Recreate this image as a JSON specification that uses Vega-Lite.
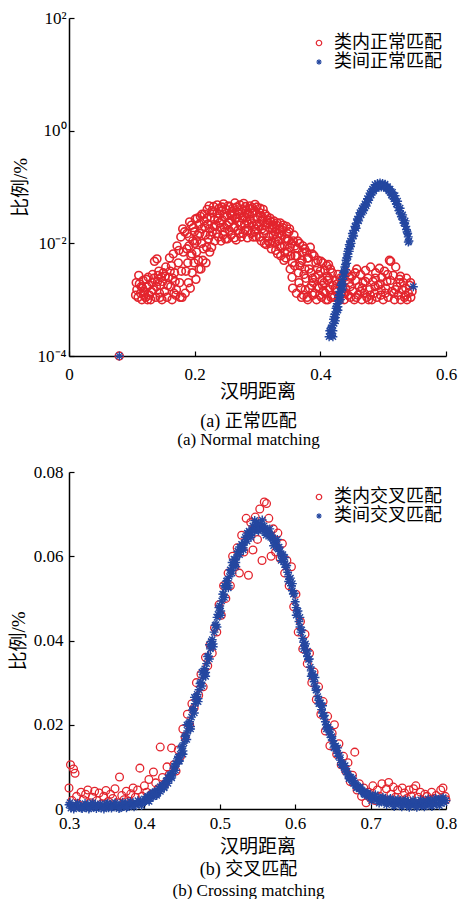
{
"$schema": "https://vega.github.io/schema/vega-lite/v6.json",
"padding": {"left": 9, "top": 9, "right": 6, "bottom": 0},
"background": "white",
"config": {
 "view": {"stroke": null},
 "axis": {"domainColor": "black", "domainWidth": 1.5, "tickColor": "black", "tickWidth": 1.2, "tickSize": -5, "labelFont": "Liberation Serif", "labelFontSize": 17, "labelColor": "black", "titleFont": "Liberation Serif, Noto Sans CJK SC", "titleFontSize": 19, "titleFontWeight": "normal", "titleColor": "black", "grid": false, "labelFlush": false, "labelOverlap": false}
},
"spacing": 15,
"resolve": {"scale": {"color": "independent", "shape": "independent"}},
"datasets": {
 "a_in": [
  {"x":0.08,"y":0.0001},
  {"x":0.106,"y":0.0012},{"x":0.107,"y":0.0020},{"x":0.108,"y":0.0015},{"x":0.110,"y":0.0011},{"x":0.111,"y":0.0027},{"x":0.112,"y":0.0019},{"x":0.114,"y":0.0013},{"x":0.115,"y":0.0017},{"x":0.116,"y":0.0010},{"x":0.117,"y":0.0016},{"x":0.118,"y":0.0022},{"x":0.119,"y":0.0012},{"x":0.120,"y":0.0014},{"x":0.122,"y":0.0011},{"x":0.123,"y":0.0023},{"x":0.124,"y":0.0017},{"x":0.125,"y":0.0010},{"x":0.126,"y":0.0025},{"x":0.127,"y":0.0018},{"x":0.128,"y":0.0012},{"x":0.130,"y":0.0010},{"x":0.131,"y":0.0014},{"x":0.132,"y":0.0020},{"x":0.133,"y":0.0028},{"x":0.134,"y":0.0015},{"x":0.135,"y":0.0024},{"x":0.136,"y":0.0048},{"x":0.138,"y":0.0011},{"x":0.139,"y":0.0017},{"x":0.140,"y":0.0053},{"x":0.141,"y":0.0021},{"x":0.142,"y":0.0027},{"x":0.143,"y":0.0032},{"x":0.144,"y":0.0013},{"x":0.145,"y":0.0011},{"x":0.146,"y":0.0018},{"x":0.147,"y":0.0025},{"x":0.148,"y":0.0010},{"x":0.149,"y":0.0021},{"x":0.150,"y":0.0030},
  {"x":0.152,"y":0.0014},{"x":0.153,"y":0.0026},{"x":0.154,"y":0.0038},{"x":0.156,"y":0.0011},{"x":0.157,"y":0.0018},{"x":0.158,"y":0.0025},{"x":0.160,"y":0.0055},{"x":0.161,"y":0.0032},{"x":0.162,"y":0.0017},{"x":0.163,"y":0.0040},{"x":0.164,"y":0.0010},{"x":0.165,"y":0.0024},{"x":0.166,"y":0.0065},{"x":0.167,"y":0.0013},{"x":0.168,"y":0.0030},{"x":0.169,"y":0.0021},{"x":0.170,"y":0.0012},{"x":0.171,"y":0.0015},{"x":0.172,"y":0.0090},{"x":0.174,"y":0.0045},{"x":0.175,"y":0.0075},{"x":0.176,"y":0.0020},{"x":0.177,"y":0.0011},{"x":0.178,"y":0.0130},{"x":0.179,"y":0.0032},{"x":0.180,"y":0.0011},{"x":0.181,"y":0.0180},{"x":0.182,"y":0.0070},{"x":0.184,"y":0.0160},{"x":0.185,"y":0.0013},{"x":0.186,"y":0.0032},
  {"x":0.1875,"y":0.0080},{"x":0.1915,"y":0.0130},{"x":0.1955,"y":0.0065},{"x":0.1995,"y":0.0160},{"x":0.2035,"y":0.0110},{"x":0.2075,"y":0.0220},{"x":0.2115,"y":0.0180},{"x":0.2155,"y":0.0330},{"x":0.2195,"y":0.0280},{"x":0.2235,"y":0.0180},{"x":0.2275,"y":0.0380},{"x":0.2315,"y":0.0260},{"x":0.2355,"y":0.0340},{"x":0.2395,"y":0.0230},{"x":0.2435,"y":0.0440},{"x":0.2475,"y":0.0190},{"x":0.2515,"y":0.0310},{"x":0.2555,"y":0.0240},{"x":0.2595,"y":0.0370},{"x":0.2635,"y":0.0200},{"x":0.2675,"y":0.0290},{"x":0.2715,"y":0.0150},{"x":0.2755,"y":0.0350},{"x":0.2795,"y":0.0220},{"x":0.2835,"y":0.0330},{"x":0.2875,"y":0.0270},{"x":0.2915,"y":0.0430},{"x":0.2955,"y":0.0160},{"x":0.2995,"y":0.0220},{"x":0.3035,"y":0.0350},{"x":0.3075,"y":0.0250},{"x":0.3115,"y":0.0170},{"x":0.3155,"y":0.0260},{"x":0.3195,"y":0.0100},{"x":0.3235,"y":0.0210},{"x":0.3275,"y":0.0160},{"x":0.3315,"y":0.0130},{"x":0.3355,"y":0.0090},{"x":0.3395,"y":0.0170},{"x":0.3435,"y":0.0070},{"x":0.3475,"y":0.0120},{"x":0.3515,"y":0.0085},{"x":0.3555,"y":0.0045},{"x":0.3595,"y":0.0090},{"x":0.3635,"y":0.0080},{"x":0.3675,"y":0.0040},{"x":0.3715,"y":0.0070},{"x":0.3755,"y":0.0035},{"x":0.3795,"y":0.0055},{"x":0.3875,"y":0.0024},{"x":0.3955,"y":0.0036},{"x":0.4035,"y":0.0018},{"x":0.4115,"y":0.0022},
  {"x":0.188,"y":0.0150},{"x":0.189,"y":0.0045},{"x":0.190,"y":0.0020},{"x":0.191,"y":0.0090},{"x":0.192,"y":0.0240},{"x":0.193,"y":0.0016},{"x":0.194,"y":0.0060},{"x":0.195,"y":0.0210},{"x":0.196,"y":0.0030},{"x":0.197,"y":0.0110},{"x":0.198,"y":0.0190},{"x":0.199,"y":0.0045},{"x":0.200,"y":0.0100},{"x":0.201,"y":0.0270},{"x":0.202,"y":0.0023},{"x":0.203,"y":0.0070},{"x":0.204,"y":0.0280},{"x":0.205,"y":0.0140},{"x":0.206,"y":0.0050},{"x":0.207,"y":0.0035},{"x":0.208,"y":0.0150},{"x":0.209,"y":0.0300},{"x":0.210,"y":0.0035},{"x":0.211,"y":0.0100},{"x":0.212,"y":0.0330},{"x":0.213,"y":0.0050},{"x":0.214,"y":0.0080},{"x":0.215,"y":0.0250},{"x":0.216,"y":0.0200},{"x":0.217,"y":0.0140},{"x":0.218,"y":0.0045},{"x":0.219,"y":0.0085},{"x":0.220,"y":0.0400},{"x":0.221,"y":0.0220},{"x":0.222,"y":0.0120},{"x":0.223,"y":0.0460},{"x":0.224,"y":0.0070},{"x":0.225,"y":0.0140},{"x":0.226,"y":0.0290},{"x":0.227,"y":0.0085},{"x":0.228,"y":0.0160},{"x":0.229,"y":0.0350},{"x":0.230,"y":0.0450},{"x":0.231,"y":0.0200},{"x":0.232,"y":0.0110},
  {"x":0.234,"y":0.0210},{"x":0.235,"y":0.0150},{"x":0.236,"y":0.0480},{"x":0.237,"y":0.0280},{"x":0.238,"y":0.0130},{"x":0.239,"y":0.0420},{"x":0.240,"y":0.0330},{"x":0.241,"y":0.0190},{"x":0.242,"y":0.0110},{"x":0.243,"y":0.0380},{"x":0.244,"y":0.0260},{"x":0.245,"y":0.0140},{"x":0.246,"y":0.0500},{"x":0.247,"y":0.0300},{"x":0.248,"y":0.0160},{"x":0.249,"y":0.0120},{"x":0.250,"y":0.0400},{"x":0.251,"y":0.0210},{"x":0.252,"y":0.0120},{"x":0.253,"y":0.0460},{"x":0.254,"y":0.0230},{"x":0.255,"y":0.0170},{"x":0.256,"y":0.0450},{"x":0.257,"y":0.0330},{"x":0.258,"y":0.0140},{"x":0.259,"y":0.0260},{"x":0.260,"y":0.0310},{"x":0.261,"y":0.0420},{"x":0.262,"y":0.0190},{"x":0.263,"y":0.0125},{"x":0.264,"y":0.0520},{"x":0.265,"y":0.0280},{"x":0.266,"y":0.0115},{"x":0.267,"y":0.0440},{"x":0.268,"y":0.0360},{"x":0.269,"y":0.0170},{"x":0.270,"y":0.0240},{"x":0.271,"y":0.0330},{"x":0.272,"y":0.0480},{"x":0.273,"y":0.0210},{"x":0.274,"y":0.0130},{"x":0.275,"y":0.0400},{"x":0.276,"y":0.0280},{"x":0.277,"y":0.0150},{"x":0.278,"y":0.0510},{"x":0.279,"y":0.0300},{"x":0.280,"y":0.0170},{"x":0.281,"y":0.0450},{"x":0.282,"y":0.0390},{"x":0.283,"y":0.0250},{"x":0.284,"y":0.0125},{"x":0.285,"y":0.0170},{"x":0.286,"y":0.0220},{"x":0.287,"y":0.0330},{"x":0.288,"y":0.0460},{"x":0.289,"y":0.0410},{"x":0.290,"y":0.0150},{"x":0.291,"y":0.0230},{"x":0.292,"y":0.0340},{"x":0.293,"y":0.0130},{"x":0.294,"y":0.0200},{"x":0.295,"y":0.0380},{"x":0.296,"y":0.0490},{"x":0.297,"y":0.0180},{"x":0.298,"y":0.0130},{"x":0.299,"y":0.0440},{"x":0.300,"y":0.0290},
  {"x":0.302,"y":0.0200},{"x":0.303,"y":0.0130},{"x":0.304,"y":0.0420},{"x":0.305,"y":0.0300},{"x":0.306,"y":0.0110},{"x":0.307,"y":0.0180},{"x":0.308,"y":0.0290},{"x":0.309,"y":0.0400},{"x":0.310,"y":0.0150},{"x":0.311,"y":0.0100},{"x":0.312,"y":0.0330},{"x":0.313,"y":0.0210},{"x":0.314,"y":0.0095},{"x":0.315,"y":0.0300},{"x":0.316,"y":0.0230},{"x":0.317,"y":0.0110},{"x":0.318,"y":0.0130},{"x":0.319,"y":0.0190},{"x":0.320,"y":0.0280},{"x":0.321,"y":0.0240},{"x":0.322,"y":0.0080},{"x":0.323,"y":0.0110},{"x":0.324,"y":0.0180},{"x":0.325,"y":0.0140},{"x":0.326,"y":0.0250},{"x":0.327,"y":0.0200},{"x":0.328,"y":0.0105},{"x":0.329,"y":0.0075},{"x":0.330,"y":0.0210},{"x":0.331,"y":0.0230},{"x":0.332,"y":0.0065},{"x":0.333,"y":0.0110},{"x":0.334,"y":0.0150},{"x":0.335,"y":0.0180},{"x":0.336,"y":0.0230},{"x":0.337,"y":0.0060},{"x":0.338,"y":0.0085},{"x":0.339,"y":0.0140},{"x":0.340,"y":0.0190},{"x":0.341,"y":0.0210},{"x":0.342,"y":0.0050},{"x":0.343,"y":0.0090},{"x":0.344,"y":0.0120},{"x":0.345,"y":0.0055},{"x":0.346,"y":0.0200},{"x":0.347,"y":0.0150},{"x":0.348,"y":0.0070},{"x":0.349,"y":0.0110},{"x":0.350,"y":0.0160},{"x":0.351,"y":0.0180},{"x":0.352,"y":0.0035},{"x":0.353,"y":0.0060},{"x":0.354,"y":0.0100},{"x":0.355,"y":0.0025},{"x":0.356,"y":0.0016},{"x":0.357,"y":0.0110},{"x":0.358,"y":0.0140},{"x":0.359,"y":0.0040},{"x":0.360,"y":0.0060},
  {"x":0.362,"y":0.0013},{"x":0.363,"y":0.0060},{"x":0.364,"y":0.0110},{"x":0.365,"y":0.0030},{"x":0.366,"y":0.0020},{"x":0.367,"y":0.0100},{"x":0.368,"y":0.0045},{"x":0.369,"y":0.0016},{"x":0.370,"y":0.0011},{"x":0.371,"y":0.0050},{"x":0.372,"y":0.0090},{"x":0.373,"y":0.0012},{"x":0.374,"y":0.0028},{"x":0.375,"y":0.0080},{"x":0.376,"y":0.0015},{"x":0.377,"y":0.0024},{"x":0.378,"y":0.0070},{"x":0.379,"y":0.0011},{"x":0.380,"y":0.0010},{"x":0.381,"y":0.0055},{"x":0.382,"y":0.0035},{"x":0.383,"y":0.0016},{"x":0.384,"y":0.0085},{"x":0.385,"y":0.0030},{"x":0.386,"y":0.0018},{"x":0.387,"y":0.0065},{"x":0.388,"y":0.0012},{"x":0.389,"y":0.0020},{"x":0.390,"y":0.0060},{"x":0.391,"y":0.0013},{"x":0.392,"y":0.0025},{"x":0.393,"y":0.0045},{"x":0.394,"y":0.0010},{"x":0.395,"y":0.0017},{"x":0.396,"y":0.0050},{"x":0.397,"y":0.0028},{"x":0.398,"y":0.0016},{"x":0.399,"y":0.0012},{"x":0.400,"y":0.0032},{"x":0.401,"y":0.0048},{"x":0.402,"y":0.0011},{"x":0.403,"y":0.0022},{"x":0.404,"y":0.0045},{"x":0.405,"y":0.0014},{"x":0.406,"y":0.0020},{"x":0.407,"y":0.0033},{"x":0.408,"y":0.0013},{"x":0.409,"y":0.0010},{"x":0.410,"y":0.0040},{"x":0.411,"y":0.0026},{"x":0.412,"y":0.0010},{"x":0.413,"y":0.0042},{"x":0.414,"y":0.0024},{"x":0.415,"y":0.0015},{"x":0.416,"y":0.0035},{"x":0.417,"y":0.0011},{"x":0.418,"y":0.0012},{"x":0.419,"y":0.0030},{"x":0.420,"y":0.0018},
  {"x":0.422,"y":0.0011},{"x":0.4235,"y":0.0016},{"x":0.424,"y":0.0022},{"x":0.426,"y":0.0015},{"x":0.427,"y":0.0019},{"x":0.428,"y":0.0028},{"x":0.430,"y":0.0010},{"x":0.4315,"y":0.0024},{"x":0.432,"y":0.0018},{"x":0.434,"y":0.0013},{"x":0.436,"y":0.0025},{"x":0.437,"y":0.0013},{"x":0.438,"y":0.0010},{"x":0.4395,"y":0.0013},{"x":0.440,"y":0.0016},{"x":0.442,"y":0.0030},{"x":0.444,"y":0.0012},{"x":0.446,"y":0.0020},{"x":0.447,"y":0.0025},{"x":0.4475,"y":0.0017},{"x":0.448,"y":0.0011},{"x":0.450,"y":0.0026},{"x":0.452,"y":0.0014},{"x":0.454,"y":0.0010},{"x":0.4555,"y":0.0030},{"x":0.456,"y":0.0022},{"x":0.457,"y":0.0011},{"x":0.458,"y":0.0035},{"x":0.460,"y":0.0012},{"x":0.462,"y":0.0017},{"x":0.4635,"y":0.0014},{"x":0.464,"y":0.0028},{"x":0.466,"y":0.0010},{"x":0.467,"y":0.0016},{"x":0.468,"y":0.0020},{"x":0.470,"y":0.0013},{"x":0.4715,"y":0.0021},{"x":0.472,"y":0.0033},{"x":0.474,"y":0.0011},{"x":0.476,"y":0.0024},{"x":0.477,"y":0.0010},{"x":0.478,"y":0.0015},{"x":0.4795,"y":0.0012},{"x":0.480,"y":0.0038},{"x":0.482,"y":0.0010},{"x":0.484,"y":0.0021},{"x":0.486,"y":0.0013},{"x":0.487,"y":0.0017},{"x":0.4875,"y":0.0024},{"x":0.488,"y":0.0030},{"x":0.490,"y":0.0011},{"x":0.492,"y":0.0018},{"x":0.494,"y":0.0036},{"x":0.4955,"y":0.0019},{"x":0.496,"y":0.0012},{"x":0.497,"y":0.0015},{"x":0.498,"y":0.0025},{"x":0.500,"y":0.0010},{"x":0.502,"y":0.0032},{"x":0.5035,"y":0.0013},{"x":0.504,"y":0.0016},{"x":0.506,"y":0.0021},{"x":0.507,"y":0.0028},{"x":0.508,"y":0.0011},{"x":0.510,"y":0.0050},{"x":0.5115,"y":0.0022},{"x":0.512,"y":0.0048},{"x":0.514,"y":0.0014},{"x":0.516,"y":0.0027},{"x":0.517,"y":0.0013},{"x":0.518,"y":0.0010},{"x":0.5195,"y":0.0015},{"x":0.520,"y":0.0038},{"x":0.522,"y":0.0017},{"x":0.524,"y":0.0012},{"x":0.526,"y":0.0023},{"x":0.527,"y":0.0020},{"x":0.5275,"y":0.0026},{"x":0.528,"y":0.0010},{"x":0.530,"y":0.0015},{"x":0.532,"y":0.0020},{"x":0.534,"y":0.0011},{"x":0.5355,"y":0.0012},{"x":0.536,"y":0.0016},{"x":0.537,"y":0.0024},{"x":0.538,"y":0.0010},{"x":0.540,"y":0.0013},{"x":0.542,"y":0.0018},{"x":0.5435,"y":0.0020},{"x":0.544,"y":0.0011},{"x":0.546,"y":0.0014}
 ],
 "a_out": [
  {"x":0.08,"y":0.0001},
  {"x":0.414,"y":0.00022},{"x":0.415,"y":0.00028},{"x":0.416,"y":0.00025},{"x":0.417,"y":0.00030},{"x":0.418,"y":0.00023},{"x":0.418,"y":0.00032},{"x":0.419,"y":0.00035},{"x":0.420,"y":0.00028},{"x":0.420,"y":0.00022},{"x":0.421,"y":0.00045},{"x":0.422,"y":0.00038},{"x":0.422,"y":0.00050},{"x":0.423,"y":0.00055},{"x":0.424,"y":0.00048},{"x":0.424,"y":0.00042},{"x":0.425,"y":0.00070},{"x":0.426,"y":0.00060},{"x":0.426,"y":0.00075},{"x":0.427,"y":0.00085},{"x":0.428,"y":0.00075},{"x":0.428,"y":0.00065},{"x":0.429,"y":0.0011},{"x":0.430,"y":0.00095},{"x":0.430,"y":0.0012},{"x":0.431,"y":0.0014},{"x":0.432,"y":0.0012},{"x":0.432,"y":0.0010},{"x":0.433,"y":0.0018},{"x":0.434,"y":0.0015},{"x":0.434,"y":0.0019},{"x":0.435,"y":0.0023},{"x":0.436,"y":0.0019},{"x":0.436,"y":0.0016},{"x":0.437,"y":0.0030},{"x":0.438,"y":0.0026},{"x":0.438,"y":0.0032},{"x":0.439,"y":0.0038},{"x":0.440,"y":0.0034},{"x":0.440,"y":0.0042},{"x":0.441,"y":0.0050},{"x":0.442,"y":0.0044},{"x":0.442,"y":0.0055},{"x":0.443,"y":0.0065},{"x":0.444,"y":0.0058},{"x":0.444,"y":0.0072},{"x":0.445,"y":0.0080},{"x":0.446,"y":0.0072},{"x":0.446,"y":0.0095},{"x":0.447,"y":0.0095},{"x":0.448,"y":0.0088},{"x":0.448,"y":0.0110},{"x":0.449,"y":0.0100},{"x":0.450,"y":0.0120},{"x":0.451,"y":0.0150},{"x":0.452,"y":0.0140},{"x":0.453,"y":0.0135},{"x":0.454,"y":0.0170},{"x":0.455,"y":0.0200},{"x":0.456,"y":0.0195},{"x":0.457,"y":0.0185},{"x":0.458,"y":0.0230},{"x":0.459,"y":0.0270},{"x":0.460,"y":0.0260},{"x":0.461,"y":0.0250},{"x":0.462,"y":0.0300},{"x":0.463,"y":0.0350},{"x":0.464,"y":0.0330},{"x":0.465,"y":0.0320},{"x":0.466,"y":0.0370},{"x":0.467,"y":0.0420},{"x":0.468,"y":0.0400},{"x":0.469,"y":0.0380},{"x":0.470,"y":0.0440},{"x":0.471,"y":0.0500},{"x":0.472,"y":0.0480},{"x":0.473,"y":0.0460},{"x":0.474,"y":0.0540},{"x":0.475,"y":0.0620},{"x":0.476,"y":0.0600},{"x":0.477,"y":0.0580},{"x":0.478,"y":0.0680},{"x":0.479,"y":0.0780},{"x":0.480,"y":0.0740},{"x":0.481,"y":0.0720},{"x":0.482,"y":0.0820},{"x":0.483,"y":0.0920},{"x":0.484,"y":0.0880},{"x":0.485,"y":0.0850},{"x":0.486,"y":0.0950},{"x":0.487,"y":0.1100},{"x":0.488,"y":0.0980},{"x":0.489,"y":0.0950},{"x":0.490,"y":0.1020},{"x":0.491,"y":0.1150},{"x":0.492,"y":0.1050},{"x":0.493,"y":0.1000},{"x":0.494,"y":0.1080},{"x":0.495,"y":0.1180},{"x":0.496,"y":0.1060},{"x":0.497,"y":0.1000},{"x":0.498,"y":0.1080},{"x":0.499,"y":0.1150},{"x":0.500,"y":0.1050},{"x":0.501,"y":0.1000},{"x":0.502,"y":0.1070},{"x":0.503,"y":0.1120},{"x":0.504,"y":0.1000},{"x":0.505,"y":0.0950},{"x":0.506,"y":0.0980},{"x":0.507,"y":0.1020},{"x":0.508,"y":0.0920},{"x":0.509,"y":0.0850},{"x":0.510,"y":0.0880},{"x":0.511,"y":0.0920},{"x":0.512,"y":0.0800},{"x":0.513,"y":0.0720},{"x":0.514,"y":0.0750},{"x":0.515,"y":0.0800},{"x":0.516,"y":0.0680},{"x":0.517,"y":0.0620},{"x":0.518,"y":0.0620},{"x":0.519,"y":0.0700},{"x":0.520,"y":0.0560},{"x":0.521,"y":0.0500},{"x":0.522,"y":0.0500},{"x":0.523,"y":0.0560},{"x":0.524,"y":0.0430},{"x":0.525,"y":0.0380},{"x":0.526,"y":0.0380},{"x":0.527,"y":0.0420},{"x":0.528,"y":0.0330},{"x":0.529,"y":0.0300},{"x":0.530,"y":0.0300},{"x":0.531,"y":0.0320},{"x":0.532,"y":0.0260},{"x":0.533,"y":0.0230},{"x":0.534,"y":0.0230},{"x":0.535,"y":0.0250},{"x":0.536,"y":0.0200},{"x":0.537,"y":0.0175},{"x":0.538,"y":0.0160},{"x":0.539,"y":0.0150},{"x":0.540,"y":0.0130},{"x":0.540,"y":0.0105},{"x":0.541,"y":0.0110},{"x":0.548,"y":0.0017}
 ],
 "b_in": [
  {"x":0.300,"y":0.0050},{"x":0.302,"y":0.0105},{"x":0.304,"y":0.0020},{"x":0.306,"y":0.0095},{"x":0.308,"y":0.0085},{"x":0.310,"y":0.0030},{"x":0.313,"y":0.0010},{"x":0.316,"y":0.0040},{"x":0.319,"y":0.0022},{"x":0.322,"y":0.0035},{"x":0.325,"y":0.0045},{"x":0.328,"y":0.0015},{"x":0.331,"y":0.0028},{"x":0.334,"y":0.0042},{"x":0.337,"y":0.0020},{"x":0.340,"y":0.0038},{"x":0.343,"y":0.0012},{"x":0.346,"y":0.0030},{"x":0.349,"y":0.0044},{"x":0.352,"y":0.0018},{"x":0.355,"y":0.0035},{"x":0.358,"y":0.0025},{"x":0.361,"y":0.0048},{"x":0.364,"y":0.0015},{"x":0.367,"y":0.0076},{"x":0.370,"y":0.0032},{"x":0.373,"y":0.0022},{"x":0.376,"y":0.0042},{"x":0.379,"y":0.0018},{"x":0.382,"y":0.0036},{"x":0.385,"y":0.0050},{"x":0.388,"y":0.0028},{"x":0.391,"y":0.0045},{"x":0.394,"y":0.0097},{"x":0.397,"y":0.0030},{"x":0.400,"y":0.0055},{"x":0.403,"y":0.0040},{"x":0.406,"y":0.0070},{"x":0.409,"y":0.0035},{"x":0.412,"y":0.0088},{"x":0.415,"y":0.0062},{"x":0.418,"y":0.0048},{"x":0.421,"y":0.0147},{"x":0.424,"y":0.0075},{"x":0.427,"y":0.0060},{"x":0.430,"y":0.0100},{"x":0.433,"y":0.0082},{"x":0.436,"y":0.0145},{"x":0.439,"y":0.0105},{"x":0.442,"y":0.0090},{"x":0.445,"y":0.0140},{"x":0.448,"y":0.0125},{"x":0.451,"y":0.0190},{"x":0.454,"y":0.0170},{"x":0.457,"y":0.0225},{"x":0.460,"y":0.0200},{"x":0.463,"y":0.0250},{"x":0.466,"y":0.0240},{"x":0.469,"y":0.0300},{"x":0.472,"y":0.0270},{"x":0.475,"y":0.0320},{"x":0.478,"y":0.0290},{"x":0.481,"y":0.0360},{"x":0.484,"y":0.0340},{"x":0.487,"y":0.0390},{"x":0.490,"y":0.0370},{"x":0.493,"y":0.0430},{"x":0.496,"y":0.0420},{"x":0.499,"y":0.0485},{"x":0.502,"y":0.0460},{"x":0.505,"y":0.0530},{"x":0.508,"y":0.0500},{"x":0.511,"y":0.0560},{"x":0.514,"y":0.0530},{"x":0.517,"y":0.0600},{"x":0.520,"y":0.0575},{"x":0.523,"y":0.0620},{"x":0.526,"y":0.0560},{"x":0.529,"y":0.0650},{"x":0.532,"y":0.0610},{"x":0.535,"y":0.0690},{"x":0.538,"y":0.0555},{"x":0.541,"y":0.0680},{"x":0.544,"y":0.0615},{"x":0.547,"y":0.0693},{"x":0.550,"y":0.0640},{"x":0.553,"y":0.0712},{"x":0.556,"y":0.0590},{"x":0.559,"y":0.0729},{"x":0.562,"y":0.0725},{"x":0.565,"y":0.0690},{"x":0.568,"y":0.0600},{"x":0.571,"y":0.0665},{"x":0.574,"y":0.0610},{"x":0.577,"y":0.0655},{"x":0.580,"y":0.0595},{"x":0.583,"y":0.0630},{"x":0.586,"y":0.0560},{"x":0.589,"y":0.0590},{"x":0.592,"y":0.0530},{"x":0.595,"y":0.0575},{"x":0.598,"y":0.0480},{"x":0.601,"y":0.0510},{"x":0.604,"y":0.0420},{"x":0.607,"y":0.0445},{"x":0.610,"y":0.0380},{"x":0.613,"y":0.0415},{"x":0.616,"y":0.0345},{"x":0.619,"y":0.0370},{"x":0.622,"y":0.0300},{"x":0.625,"y":0.0325},{"x":0.628,"y":0.0260},{"x":0.631,"y":0.0290},{"x":0.634,"y":0.0225},{"x":0.637,"y":0.0255},{"x":0.640,"y":0.0185},{"x":0.643,"y":0.0220},{"x":0.646,"y":0.0150},{"x":0.649,"y":0.0180},{"x":0.652,"y":0.0200},{"x":0.655,"y":0.0130},{"x":0.658,"y":0.0155},{"x":0.661,"y":0.0105},{"x":0.664,"y":0.0125},{"x":0.667,"y":0.0090},{"x":0.670,"y":0.0110},{"x":0.673,"y":0.0065},{"x":0.676,"y":0.0080},{"x":0.679,"y":0.0135},{"x":0.682,"y":0.0045},{"x":0.685,"y":0.0060},{"x":0.688,"y":0.0030},{"x":0.691,"y":0.0050},{"x":0.694,"y":0.0015},{"x":0.697,"y":0.0040},{"x":0.700,"y":0.0025},{"x":0.703,"y":0.0055},{"x":0.706,"y":0.0020},{"x":0.709,"y":0.0045},{"x":0.712,"y":0.0030},{"x":0.715,"y":0.0060},{"x":0.718,"y":0.0022},{"x":0.721,"y":0.0048},{"x":0.724,"y":0.0063},{"x":0.727,"y":0.0035},{"x":0.730,"y":0.0052},{"x":0.733,"y":0.0028},{"x":0.736,"y":0.0045},{"x":0.739,"y":0.0018},{"x":0.742,"y":0.0050},{"x":0.745,"y":0.0038},{"x":0.748,"y":0.0025},{"x":0.751,"y":0.0045},{"x":0.754,"y":0.0030},{"x":0.757,"y":0.0048},{"x":0.760,"y":0.0055},{"x":0.763,"y":0.0028},{"x":0.766,"y":0.0040},{"x":0.769,"y":0.0020},{"x":0.772,"y":0.0035},{"x":0.775,"y":0.0030},{"x":0.778,"y":0.0022},{"x":0.781,"y":0.0040},{"x":0.784,"y":0.0025},{"x":0.787,"y":0.0032},{"x":0.790,"y":0.0020},{"x":0.793,"y":0.0045},{"x":0.796,"y":0.0050},{"x":0.799,"y":0.0030},{"x":0.800,"y":0.0022}
 ],
 "b_out": [
  {"x":0.3000,"y":0.0010},{"x":0.3025,"y":0.0002},{"x":0.3050,"y":0.0008},{"x":0.3075,"y":0.0004},{"x":0.3100,"y":0.0009},{"x":0.3125,"y":0.0005},{"x":0.3150,"y":0.0006},{"x":0.3175,"y":0.0001},{"x":0.3200,"y":0.0008},{"x":0.3225,"y":0.0003},{"x":0.3250,"y":0.0011},{"x":0.3275,"y":0.0003},{"x":0.3300,"y":0.0009},{"x":0.3325,"y":0.0005},{"x":0.3350,"y":0.0010},{"x":0.3375,"y":0.0006},{"x":0.3400,"y":0.0007},{"x":0.3425,"y":0.0002},{"x":0.3450,"y":0.0009},{"x":0.3475,"y":0.0004},{"x":0.3500,"y":0.0011},{"x":0.3525,"y":0.0003},{"x":0.3550,"y":0.0010},{"x":0.3575,"y":0.0005},{"x":0.3600,"y":0.0011},{"x":0.3625,"y":0.0007},{"x":0.3650,"y":0.0008},{"x":0.3675,"y":0.0003},{"x":0.3700,"y":0.0011},{"x":0.3725,"y":0.0006},{"x":0.3750,"y":0.0013},{"x":0.3775,"y":0.0006},{"x":0.3800,"y":0.0013},{"x":0.3825,"y":0.0009},{"x":0.3850,"y":0.0014},{"x":0.3875,"y":0.0011},{"x":0.3900,"y":0.0014},{"x":0.3925,"y":0.0013},{"x":0.3950,"y":0.0019},{"x":0.3975,"y":0.0015},
  {"x":0.3013,"y":0.0015},{"x":0.3063,"y":0.0000},{"x":0.3113,"y":0.0014},{"x":0.3163,"y":0.0002},{"x":0.3213,"y":0.0013},{"x":0.3263,"y":0.0000},{"x":0.3313,"y":0.0015},{"x":0.3363,"y":0.0001},{"x":0.3413,"y":0.0012},{"x":0.3463,"y":0.0000},{"x":0.3513,"y":0.0014},{"x":0.3563,"y":0.0002},{"x":0.3613,"y":0.0015},{"x":0.3663,"y":0.0001},{"x":0.3713,"y":0.0016},{"x":0.3763,"y":0.0003},{"x":0.3813,"y":0.0018},{"x":0.3863,"y":0.0005},{"x":0.3913,"y":0.0020},{"x":0.3963,"y":0.0008},
  {"x":0.4000,"y":0.0024},{"x":0.4025,"y":0.0020},{"x":0.4050,"y":0.0030},{"x":0.4075,"y":0.0026},{"x":0.4100,"y":0.0035},{"x":0.4125,"y":0.0031},{"x":0.4150,"y":0.0040},{"x":0.4175,"y":0.0037},{"x":0.4200,"y":0.0048},{"x":0.4225,"y":0.0046},{"x":0.4250,"y":0.0057},{"x":0.4275,"y":0.0058},{"x":0.4300,"y":0.0068},{"x":0.4325,"y":0.0070},{"x":0.4350,"y":0.0082},{"x":0.4375,"y":0.0085},{"x":0.4400,"y":0.0100},{"x":0.4425,"y":0.0107},{"x":0.4450,"y":0.0123},{"x":0.4475,"y":0.0130},{"x":0.4500,"y":0.0148},{"x":0.4525,"y":0.0157},{"x":0.4550,"y":0.0175},{"x":0.4575,"y":0.0185},{"x":0.4600,"y":0.0207},{"x":0.4625,"y":0.0218},{"x":0.4650,"y":0.0238},{"x":0.4675,"y":0.0250},{"x":0.4700,"y":0.0272},{"x":0.4725,"y":0.0283},{"x":0.4750,"y":0.0301},{"x":0.4775,"y":0.0313},{"x":0.4800,"y":0.0333},{"x":0.4825,"y":0.0345},{"x":0.4850,"y":0.0363},{"x":0.4875,"y":0.0380},{"x":0.4900,"y":0.0402},{"x":0.4925,"y":0.0420},{"x":0.4950,"y":0.0438},{"x":0.4975,"y":0.0462},
  {"x":0.5000,"y":0.0482},{"x":0.5025,"y":0.0494},{"x":0.5050,"y":0.0510},{"x":0.5075,"y":0.0527},{"x":0.5100,"y":0.0542},{"x":0.5125,"y":0.0552},{"x":0.5150,"y":0.0566},{"x":0.5175,"y":0.0578},{"x":0.5200,"y":0.0592},{"x":0.5225,"y":0.0598},{"x":0.5250,"y":0.0610},{"x":0.5275,"y":0.0616},{"x":0.5300,"y":0.0627},{"x":0.5325,"y":0.0632},{"x":0.5350,"y":0.0640},{"x":0.5375,"y":0.0650},{"x":0.5400,"y":0.0657},{"x":0.5425,"y":0.0660},{"x":0.5450,"y":0.0668},{"x":0.5475,"y":0.0666},{"x":0.5500,"y":0.0675},{"x":0.5525,"y":0.0670},{"x":0.5550,"y":0.0671},{"x":0.5575,"y":0.0664},{"x":0.5600,"y":0.0667},{"x":0.5625,"y":0.0658},{"x":0.5650,"y":0.0655},{"x":0.5675,"y":0.0645},{"x":0.5700,"y":0.0643},{"x":0.5725,"y":0.0633},{"x":0.5750,"y":0.0628},{"x":0.5775,"y":0.0617},{"x":0.5800,"y":0.0612},{"x":0.5825,"y":0.0600},{"x":0.5850,"y":0.0588},{"x":0.5875,"y":0.0574},{"x":0.5900,"y":0.0562},{"x":0.5925,"y":0.0545},{"x":0.5950,"y":0.0530},{"x":0.5975,"y":0.0510},
  {"x":0.6000,"y":0.0492},{"x":0.6025,"y":0.0468},{"x":0.6050,"y":0.0445},{"x":0.6075,"y":0.0420},{"x":0.6100,"y":0.0405},{"x":0.6125,"y":0.0388},{"x":0.6150,"y":0.0370},{"x":0.6175,"y":0.0355},{"x":0.6200,"y":0.0337},{"x":0.6225,"y":0.0318},{"x":0.6250,"y":0.0302},{"x":0.6275,"y":0.0282},{"x":0.6300,"y":0.0267},{"x":0.6325,"y":0.0250},{"x":0.6350,"y":0.0236},{"x":0.6375,"y":0.0220},{"x":0.6400,"y":0.0207},{"x":0.6425,"y":0.0193},{"x":0.6450,"y":0.0183},{"x":0.6475,"y":0.0170},{"x":0.6500,"y":0.0162},{"x":0.6525,"y":0.0148},{"x":0.6550,"y":0.0138},{"x":0.6575,"y":0.0125},{"x":0.6600,"y":0.0116},{"x":0.6625,"y":0.0105},{"x":0.6650,"y":0.0098},{"x":0.6675,"y":0.0088},{"x":0.6700,"y":0.0081},{"x":0.6725,"y":0.0073},{"x":0.6750,"y":0.0069},{"x":0.6775,"y":0.0060},{"x":0.6800,"y":0.0059},{"x":0.6825,"y":0.0052},{"x":0.6850,"y":0.0049},{"x":0.6875,"y":0.0043},{"x":0.6900,"y":0.0041},{"x":0.6925,"y":0.0034},{"x":0.6950,"y":0.0037},{"x":0.6975,"y":0.0029},
  {"x":0.7000,"y":0.0032},{"x":0.7025,"y":0.0025},{"x":0.7050,"y":0.0029},{"x":0.7075,"y":0.0021},{"x":0.7100,"y":0.0027},{"x":0.7125,"y":0.0019},{"x":0.7150,"y":0.0025},{"x":0.7175,"y":0.0017},{"x":0.7200,"y":0.0023},{"x":0.7225,"y":0.0015},{"x":0.7250,"y":0.0022},{"x":0.7275,"y":0.0014},{"x":0.7300,"y":0.0021},{"x":0.7325,"y":0.0012},{"x":0.7350,"y":0.0020},{"x":0.7375,"y":0.0012},{"x":0.7400,"y":0.0019},{"x":0.7425,"y":0.0010},{"x":0.7450,"y":0.0018},{"x":0.7475,"y":0.0010},{"x":0.7500,"y":0.0017},{"x":0.7525,"y":0.0009},{"x":0.7550,"y":0.0016},{"x":0.7575,"y":0.0009},{"x":0.7600,"y":0.0017},{"x":0.7625,"y":0.0008},{"x":0.7650,"y":0.0016},{"x":0.7675,"y":0.0009},{"x":0.7700,"y":0.0017},{"x":0.7725,"y":0.0009},{"x":0.7750,"y":0.0018},{"x":0.7775,"y":0.0010},{"x":0.7800,"y":0.0019},{"x":0.7825,"y":0.0011},{"x":0.7850,"y":0.0021},{"x":0.7875,"y":0.0013},{"x":0.7900,"y":0.0023},{"x":0.7925,"y":0.0014},{"x":0.7950,"y":0.0024},{"x":0.7975,"y":0.0015},{"x":0.8000,"y":0.0020},
  {"x":0.7013,"y":0.0020},{"x":0.7063,"y":0.0034},{"x":0.7113,"y":0.0014},{"x":0.7163,"y":0.0028},{"x":0.7213,"y":0.0010},{"x":0.7263,"y":0.0025},{"x":0.7313,"y":0.0006},{"x":0.7363,"y":0.0023},{"x":0.7413,"y":0.0005},{"x":0.7463,"y":0.0022},{"x":0.7513,"y":0.0004},{"x":0.7563,"y":0.0021},{"x":0.7613,"y":0.0004},{"x":0.7663,"y":0.0022},{"x":0.7713,"y":0.0005},{"x":0.7763,"y":0.0024},{"x":0.7813,"y":0.0006},{"x":0.7863,"y":0.0026},{"x":0.7913,"y":0.0008},{"x":0.7963,"y":0.0027},
  {"x":0.40125,"y":0.0019},{"x":0.40375,"y":0.0029},{"x":0.40625,"y":0.0025},{"x":0.40875,"y":0.0034},{"x":0.41125,"y":0.0029},{"x":0.41375,"y":0.0041},{"x":0.41625,"y":0.0035},{"x":0.41875,"y":0.0049},{"x":0.42125,"y":0.0042},{"x":0.42375,"y":0.0056},{"x":0.42625,"y":0.0050},{"x":0.42875,"y":0.0066},{"x":0.43125,"y":0.0061},{"x":0.43375,"y":0.0080},{"x":0.43625,"y":0.0074},{"x":0.43875,"y":0.0097},{"x":0.44125,"y":0.0092},{"x":0.44375,"y":0.0119},{"x":0.44625,"y":0.0113},{"x":0.44875,"y":0.0145},{"x":0.45125,"y":0.0138},{"x":0.45375,"y":0.0172},{"x":0.45625,"y":0.0165},{"x":0.45875,"y":0.0203},{"x":0.46125,"y":0.0196},{"x":0.46375,"y":0.0235},{"x":0.46625,"y":0.0228},{"x":0.46875,"y":0.0266},{"x":0.47125,"y":0.0262},{"x":0.47375,"y":0.0298},{"x":0.47625,"y":0.0292},{"x":0.47875,"y":0.0328},{"x":0.48125,"y":0.0324},{"x":0.48375,"y":0.0362},{"x":0.48625,"y":0.0356},{"x":0.48875,"y":0.0398},{"x":0.49125,"y":0.0392},{"x":0.49375,"y":0.0436},{"x":0.49625,"y":0.0432},{"x":0.49875,"y":0.0478},
  {"x":0.50125,"y":0.0470},{"x":0.50375,"y":0.0510},{"x":0.50625,"y":0.0502},{"x":0.50875,"y":0.0541},{"x":0.51125,"y":0.0530},{"x":0.51375,"y":0.0568},{"x":0.51625,"y":0.0560},{"x":0.51875,"y":0.0593},{"x":0.52125,"y":0.0585},{"x":0.52375,"y":0.0612},{"x":0.52625,"y":0.0604},{"x":0.52875,"y":0.0628},{"x":0.53125,"y":0.0620},{"x":0.53375,"y":0.0645},{"x":0.53625,"y":0.0636},{"x":0.53875,"y":0.0660},{"x":0.54125,"y":0.0650},{"x":0.54375,"y":0.0672},{"x":0.54625,"y":0.0660},{"x":0.54875,"y":0.0680},{"x":0.55125,"y":0.0665},{"x":0.55375,"y":0.0678},{"x":0.55625,"y":0.0662},{"x":0.55875,"y":0.0672},{"x":0.56125,"y":0.0658},{"x":0.56375,"y":0.0662},{"x":0.56625,"y":0.0648},{"x":0.56875,"y":0.0650},{"x":0.57125,"y":0.0636},{"x":0.57375,"y":0.0638},{"x":0.57625,"y":0.0620},{"x":0.57875,"y":0.0622},{"x":0.58125,"y":0.0603},{"x":0.58375,"y":0.0604},{"x":0.58625,"y":0.0580},{"x":0.58875,"y":0.0578},{"x":0.59125,"y":0.0552},{"x":0.59375,"y":0.0548},{"x":0.59625,"y":0.0518},{"x":0.59875,"y":0.0512},
  {"x":0.60125,"y":0.0478},{"x":0.60375,"y":0.0470},{"x":0.60625,"y":0.0432},{"x":0.60875,"y":0.0425},{"x":0.61125,"y":0.0396},{"x":0.61375,"y":0.0392},{"x":0.61625,"y":0.0362},{"x":0.61875,"y":0.0356},{"x":0.62125,"y":0.0328},{"x":0.62375,"y":0.0320},{"x":0.62625,"y":0.0292},{"x":0.62875,"y":0.0284},{"x":0.63125,"y":0.0258},{"x":0.63375,"y":0.0252},{"x":0.63625,"y":0.0228},{"x":0.63875,"y":0.0222},{"x":0.64125,"y":0.0200},{"x":0.64375,"y":0.0195},{"x":0.64625,"y":0.0176},{"x":0.64875,"y":0.0172},{"x":0.65125,"y":0.0155},{"x":0.65375,"y":0.0150},{"x":0.65625,"y":0.0132},{"x":0.65875,"y":0.0128},{"x":0.66125,"y":0.0110},{"x":0.66375,"y":0.0108},{"x":0.66625,"y":0.0093},{"x":0.66875,"y":0.0090},{"x":0.67125,"y":0.0077},{"x":0.67375,"y":0.0075},{"x":0.67625,"y":0.0065},{"x":0.67875,"y":0.0062},{"x":0.68125,"y":0.0056},{"x":0.68375,"y":0.0052},{"x":0.68625,"y":0.0048},{"x":0.68875,"y":0.0044},{"x":0.69125,"y":0.0039},{"x":0.69375,"y":0.0038},{"x":0.69625,"y":0.0033},{"x":0.69875,"y":0.0031},
  {"x":0.4063,"y":0.0018},{"x":0.4113,"y":0.0039},{"x":0.4163,"y":0.0032},{"x":0.4213,"y":0.0053},{"x":0.4263,"y":0.0052},{"x":0.4313,"y":0.0074},{"x":0.4363,"y":0.0078},{"x":0.4413,"y":0.0108},{"x":0.4463,"y":0.0115},{"x":0.4513,"y":0.0130},{"x":0.4563,"y":0.0200},{"x":0.4613,"y":0.0190},{"x":0.4663,"y":0.0265},{"x":0.4713,"y":0.0255},{"x":0.4763,"y":0.0325},{"x":0.4813,"y":0.0315},{"x":0.4863,"y":0.0390},{"x":0.4913,"y":0.0385},{"x":0.4963,"y":0.0455},{"x":0.5013,"y":0.0460},{"x":0.5063,"y":0.0530},{"x":0.5113,"y":0.0525},{"x":0.5163,"y":0.0585},{"x":0.5213,"y":0.0575},{"x":0.5263,"y":0.0622},{"x":0.5313,"y":0.0615},{"x":0.5363,"y":0.0655},{"x":0.5413,"y":0.0645},{"x":0.5463,"y":0.0685},{"x":0.5513,"y":0.0660},{"x":0.5563,"y":0.0686},{"x":0.5613,"y":0.0650},{"x":0.5663,"y":0.0665},{"x":0.5713,"y":0.0625},{"x":0.5763,"y":0.0640},{"x":0.5813,"y":0.0590},{"x":0.5863,"y":0.0597},{"x":0.5913,"y":0.0540},{"x":0.5963,"y":0.0535},{"x":0.6013,"y":0.0460},{"x":0.6063,"y":0.0455},{"x":0.6113,"y":0.0380},{"x":0.6163,"y":0.0375},{"x":0.6213,"y":0.0315},{"x":0.6263,"y":0.0312},{"x":0.6313,"y":0.0250},{"x":0.6363,"y":0.0245},{"x":0.6413,"y":0.0190},{"x":0.6463,"y":0.0188},{"x":0.6513,"y":0.0145},{"x":0.6563,"y":0.0145},{"x":0.6613,"y":0.0105},{"x":0.6663,"y":0.0103},{"x":0.6713,"y":0.0072},{"x":0.6763,"y":0.0073},{"x":0.6813,"y":0.0050},{"x":0.6863,"y":0.0052},{"x":0.6913,"y":0.0036},{"x":0.6963,"y":0.0038}
 ]
},
"vconcat": [
 {
  "width": 377, "height": 338,
  "title": {"text": "(a) 正常匹配", "subtitle": "(a) Normal matching", "orient": "bottom", "anchor": "middle", "dx": -9, "offset": 12, "font": "Liberation Serif, Noto Sans CJK SC", "fontSize": 18, "fontWeight": "normal", "color": "black", "subtitleFont": "Liberation Serif", "subtitleFontSize": 17, "subtitleColor": "black", "subtitlePadding": 1},
  "encoding": {
   "x": {"field": "x", "type": "quantitative", "scale": {"domain": [0, 0.6], "nice": false, "zero": false}, "axis": {"values": [0, 0.2, 0.4, 0.6], "labelExpr": "datum.value == 0 ? '0' : format(datum.value, '.1f')", "labelFont": "Liberation Serif", "title": "汉明距离", "labelPadding": 15, "titlePadding": 0}},
   "y": {"field": "y", "type": "quantitative", "scale": {"type": "log", "domain": [0.0001, 100], "nice": false}, "axis": {"values": [0.0001, 0.01, 1, 100], "labelExpr": "datum.value >= 50 ? '10²' : datum.value >= 0.5 ? '10⁰' : datum.value >= 0.005 ? '10⁻²' : '10⁻⁴'", "labelFont": "Liberation Serif", "title": "比例/%", "labelPadding": 8, "titlePadding": 7}}
  },
  "layer": [
   {"data": {"name": "a_in"}, "mark": {"type": "point", "filled": false, "strokeWidth": 1.6, "size": 62, "opacity": 1},
    "encoding": {
     "color": {"datum": "类内正常匹配", "type": "nominal", "scale": {"domain": ["类内正常匹配", "类间正常匹配"], "range": ["#e3242d", "#2447a0"]}, "legend": {"orient": "none", "legendX": 241, "legendY": 16, "title": null, "labelFont": "Noto Sans CJK SC", "labelFontSize": 18, "labelColor": "black", "symbolSize": 30, "symbolStrokeWidth": 1.2, "rowPadding": 1, "labelOffset": 6, "symbolFillColor": "transparent"}},
     "shape": {"datum": "类内正常匹配", "type": "nominal", "scale": {"domain": ["类内正常匹配", "类间正常匹配"], "range": ["circle", "M-1,0L1,0M0,-1L0,1M-0.7,-0.7L0.7,0.7M-0.7,0.7L0.7,-0.7"]}}
    }},
   {"data": {"name": "a_out"}, "mark": {"type": "point", "filled": false, "strokeWidth": 1.4, "size": 80, "opacity": 1},
    "encoding": {
     "color": {"datum": "类间正常匹配", "type": "nominal"},
     "shape": {"datum": "类间正常匹配", "type": "nominal"}
    }}
  ]
 },
 {
  "width": 377, "height": 337,
  "title": {"text": "(b) 交叉匹配", "subtitle": "(b) Crossing matching", "orient": "bottom", "anchor": "middle", "dx": -9, "offset": 5, "font": "Liberation Serif, Noto Sans CJK SC", "fontSize": 18, "fontWeight": "normal", "color": "black", "subtitleFont": "Liberation Serif", "subtitleFontSize": 17, "subtitleColor": "black", "subtitlePadding": 4},
  "encoding": {
   "x": {"field": "x", "type": "quantitative", "scale": {"domain": [0.3, 0.8], "nice": false, "zero": false}, "axis": {"values": [0.3, 0.4, 0.5, 0.6, 0.7, 0.8], "format": ".1f", "labelFont": "Liberation Serif", "title": "汉明距离", "labelPadding": 11, "titlePadding": 6}},
   "y": {"field": "y", "type": "quantitative", "scale": {"domain": [0, 0.08], "nice": false}, "axis": {"values": [0, 0.02, 0.04, 0.06, 0.08], "labelExpr": "datum.value == 0 ? '0' : format(datum.value, '.2f')", "labelFont": "Liberation Serif", "title": "比例/%", "labelPadding": 11, "titlePadding": 5}}
  },
  "layer": [
   {"data": {"name": "b_in"}, "mark": {"type": "point", "filled": false, "strokeWidth": 1.3, "size": 60, "opacity": 1},
    "encoding": {
     "color": {"datum": "类内交叉匹配", "type": "nominal", "scale": {"domain": ["类内交叉匹配", "类间交叉匹配"], "range": ["#e3242d", "#2447a0"]}, "legend": {"orient": "none", "legendX": 241, "legendY": 16, "title": null, "labelFont": "Noto Sans CJK SC", "labelFontSize": 18, "labelColor": "black", "symbolSize": 30, "symbolStrokeWidth": 1.2, "rowPadding": 1, "labelOffset": 6, "symbolFillColor": "transparent"}},
     "shape": {"datum": "类内交叉匹配", "type": "nominal", "scale": {"domain": ["类内交叉匹配", "类间交叉匹配"], "range": ["circle", "M-1,0L1,0M0,-1L0,1M-0.7,-0.7L0.7,0.7M-0.7,0.7L0.7,-0.7"]}}
    }},
   {"data": {"name": "b_out"}, "mark": {"type": "point", "filled": false, "strokeWidth": 1.4, "size": 78, "opacity": 1},
    "encoding": {
     "color": {"datum": "类间交叉匹配", "type": "nominal"},
     "shape": {"datum": "类间交叉匹配", "type": "nominal"}
    }}
  ]
 }
]
}
